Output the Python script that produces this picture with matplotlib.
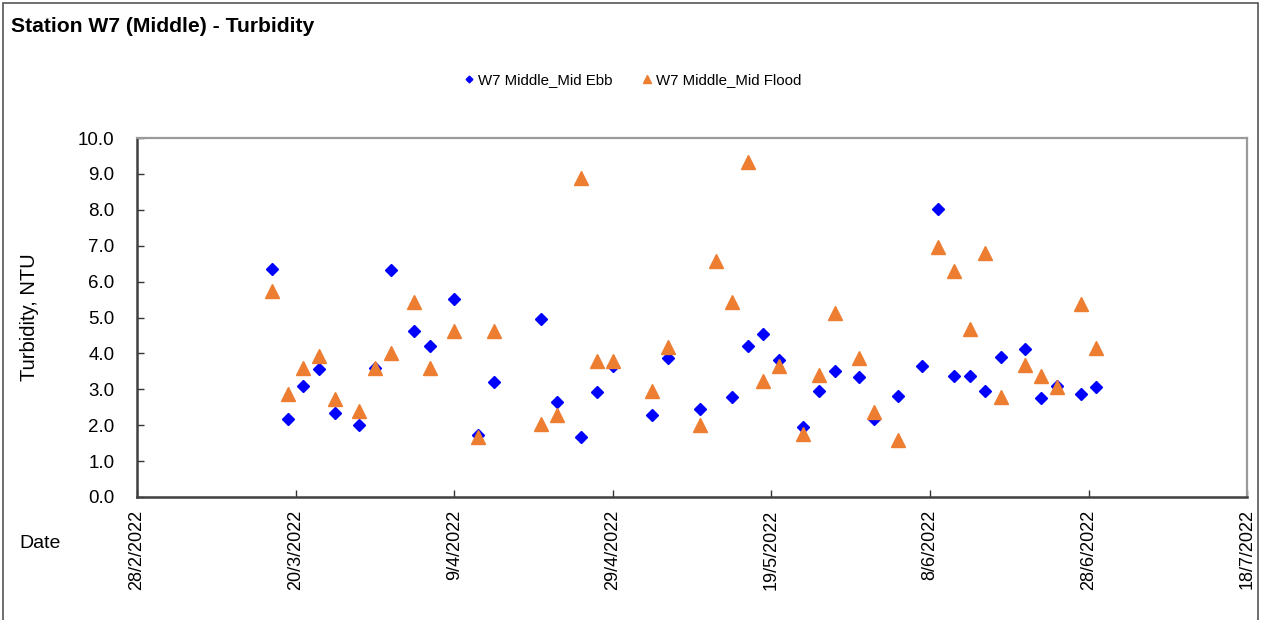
import datetime as dt
import matplotlib
matplotlib.use("Agg")
import matplotlib.pyplot as plt
from matplotlib.patches import Rectangle
from matplotlib.ticker import FormatStrFormatter, MultipleLocator

plt.rcParams['font.family'] = ['Liberation Sans', 'DejaVu Sans']

# Mid Ebb readings (date strings d/m/2022, turbidity NTU)
ebb_dates = ['17/3', '19/3', '21/3', '23/3', '25/3', '28/3', '30/3', '1/4', '4/4', '6/4',
             '9/4', '12/4', '14/4', '20/4', '22/4', '25/4', '27/4', '29/4', '4/5', '6/5',
             '10/5', '14/5', '16/5', '18/5', '20/5', '23/5', '25/5', '27/5', '30/5', '1/6',
             '4/6', '7/6', '9/6', '11/6', '13/6', '15/6', '17/6', '20/6', '22/6', '24/6',
             '27/6', '29/6']
ebb_values = [6.35, 2.17, 3.09, 3.57, 2.33, 2.00, 3.60, 6.32, 4.62, 4.20,
              5.52, 1.73, 3.19, 4.97, 2.64, 1.66, 2.93, 3.66, 2.28, 3.87,
              2.44, 2.78, 4.20, 4.55, 3.82, 1.96, 2.95, 3.50, 3.35, 2.18,
              2.81, 3.65, 8.02, 3.37, 3.37, 2.95, 3.90, 4.12, 2.77, 3.09,
              2.87, 3.07]

# Mid Flood readings
flood_dates = ['17/3', '19/3', '21/3', '23/3', '25/3', '28/3', '30/3', '1/4', '4/4', '6/4',
               '9/4', '12/4', '14/4', '20/4', '22/4', '25/4', '27/4', '29/4', '4/5', '6/5',
               '10/5', '12/5', '14/5', '16/5', '18/5', '20/5', '23/5', '25/5', '27/5', '30/5',
               '1/6', '4/6', '9/6', '11/6', '13/6', '15/6', '17/6', '20/6', '22/6', '24/6',
               '27/6', '29/6']
flood_values = [5.75, 2.86, 3.60, 3.93, 2.72, 2.40, 3.60, 4.02, 5.44, 3.58,
                4.63, 1.68, 4.62, 2.03, 2.28, 8.89, 3.80, 3.80, 2.94, 4.17,
                2.01, 6.58, 5.42, 9.32, 3.24, 3.66, 1.75, 3.40, 5.13, 3.87,
                2.38, 1.59, 6.97, 6.30, 4.67, 6.80, 2.79, 3.69, 3.36, 3.07,
                5.38, 4.15]


def to_date(s):
    d, m = s.split('/')
    return dt.datetime(2022, int(m), int(d))


ebb_x = [to_date(s) for s in ebb_dates]
flood_x = [to_date(s) for s in flood_dates]

fig = plt.figure(figsize=(12.61, 6.2), dpi=100)
ax = fig.add_axes([0.1086, 0.1984, 0.8804, 0.579])

ax.plot(ebb_x, ebb_values, linestyle='none', marker='D', markersize=6.2,
        color='#0000FF', label='W7 Middle_Mid Ebb')
ax.plot(flood_x, flood_values, linestyle='none', marker='^', markersize=9.5,
        color='#ED7D31', label='W7 Middle_Mid Flood')

# x axis: 28/2/2022 to 18/7/2022, tick every 20 days
start = dt.datetime(2022, 2, 28)
end = dt.datetime(2022, 7, 18)
ax.set_xlim(start, end)
ax.set_ylim(0, 10)
ticks = [start + dt.timedelta(days=20 * i) for i in range(8)]
ax.set_xticks(ticks)
ax.set_xticklabels([f"{t.day}/{t.month}/{t.year}" for t in ticks], rotation=90, fontsize=13)
ax.yaxis.set_major_locator(MultipleLocator(1.0))
ax.yaxis.set_major_formatter(FormatStrFormatter('%.1f'))
ax.tick_params(axis='both', direction='in', length=5, width=1, colors='#333333', labelcolor='black')
ax.tick_params(axis='y', labelsize=13.5, pad=16)
ax.tick_params(axis='x', pad=9)

for side in ['left', 'bottom']:
    ax.spines[side].set_color('#404040')
    ax.spines[side].set_linewidth(1.8)
for side in ['top', 'right']:
    ax.spines[side].set_color('#9a9a9a')
    ax.spines[side].set_linewidth(1.6)

ax.set_ylabel('Turbidity, NTU', fontsize=14.5)
ax.yaxis.set_label_coords(-0.088, 0.5)
fig.text(0.015, 0.124, 'Date', fontsize=14, va='center', ha='left')

fig.text(0.009, 0.958, 'Station W7 (Middle) - Turbidity', fontsize=15.2, fontweight='bold',
         va='center', ha='left')

fig.legend(loc='center', bbox_to_anchor=(0.502, 0.871), ncol=2, frameon=False,
           fontsize=10.8, markerscale=0.55, handlelength=0.6, handletextpad=0.3,
           columnspacing=2.0)

fig.patches.append(Rectangle((0.002, -0.01), 0.996, 1.005, transform=fig.transFigure,
                             fill=False, edgecolor='#555555', linewidth=1.2))

fig.savefig('out.png', dpi=100)
